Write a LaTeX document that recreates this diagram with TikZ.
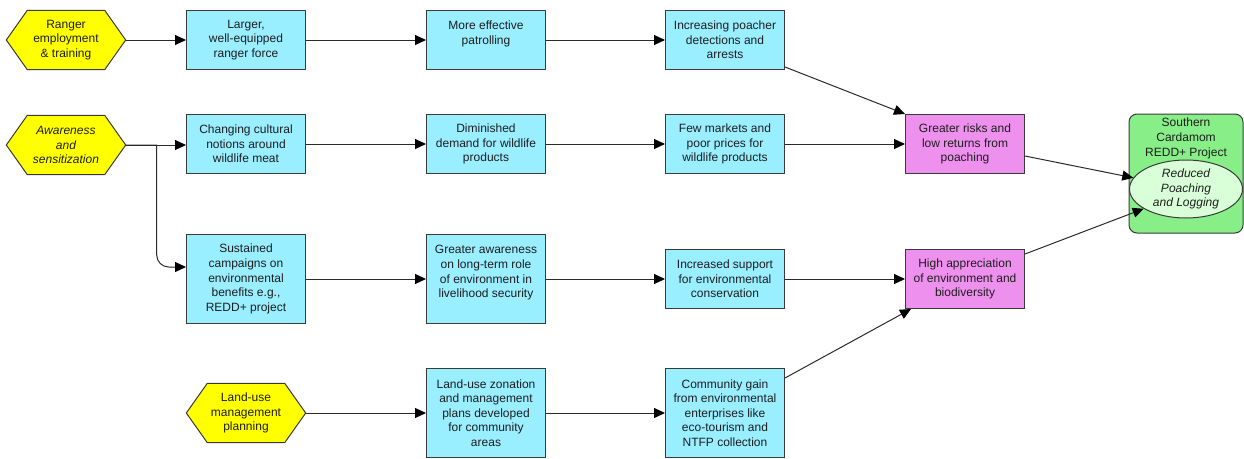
\documentclass[tikz,border=0pt]{standalone}
\usepackage{fontspec}
\setmainfont{Liberation Sans}
\usetikzlibrary{arrows.meta,backgrounds,shapes.geometric}
\definecolor{boxcyan}{HTML}{99EEFF}
\definecolor{boxpink}{HTML}{EE90EE}
\definecolor{hexyellow}{HTML}{FFFF00}
\definecolor{projgreen}{HTML}{88EE88}
\definecolor{ellgreen}{HTML}{D8FFD8}
\definecolor{edgegray}{HTML}{3A3A3A}
\definecolor{linegray}{HTML}{2A2A2A}
\definecolor{txt}{HTML}{1E1E1E}
\begin{document}
\begin{tikzpicture}[x=1pt,y=-1pt,
  every node/.style={font=\fontsize{12}{14.6}\selectfont,text=txt,align=center,inner sep=0pt},
  stepbox/.style={draw=edgegray,line width=1pt,fill=boxcyan,minimum width=119pt,minimum height=59pt},
  tallbox/.style={stepbox,minimum height=89pt},
  outcome/.style={draw=edgegray,line width=1pt,fill=boxpink,minimum width=119pt,minimum height=59pt},
  hexnode/.style={minimum width=119pt,minimum height=59pt},
  hexframe/.style={draw=edgegray,line width=1pt,fill=hexyellow},
  arr/.style={draw=linegray,line width=1pt,-{Triangle[length=11pt,width=10pt,color=black]}}]
\useasboundingbox (0,0) rectangle (1244,458);

% inputs (hexagons)
\node[hexnode] (ranger) at (66,40) {Ranger\\employment\\\& training};
\node[hexnode] (aware) at (66,145) {\itshape Awareness\\\itshape and\\\itshape sensitization};
\node[hexnode] (land) at (246,413) {Land-use\\management\\planning};

% row 1
\node[stepbox] (larger) at (246,40) {Larger,\\well-equipped\\ranger force};
\node[stepbox] (patrol) at (486,40) {More effective\\patrolling\\\mbox{}};
\node[stepbox] (detect) at (725,40) {Increasing poacher\\detections and\\arrests};

% row 2
\node[stepbox] (cultural) at (246,144) {Changing cultural\\notions around\\wildlife meat};
\node[stepbox] (demand) at (486,144) {Diminished\\demand for wildlife\\products};
\node[stepbox] (markets) at (725,144) {Few markets and\\poor prices for\\wildlife products};
\node[outcome] (risks) at (965,144) {Greater risks and\\low returns from\\poaching};

% row 3
\node[tallbox] (campaign) at (246,279) {Sustained\\campaigns on\\environmental\\benefits e.g.,\\REDD+ project};
\node[tallbox] (role) at (486,279) {Greater awareness\\on long-term role\\of environment in\\livelihood security\\\mbox{}};
\node[stepbox] (support) at (725,279) {Increased support\\for environmental\\conservation};
\node[outcome] (apprec) at (965,279) {High appreciation\\of environment and\\biodiversity};

% row 4
\node[tallbox] (zoning) at (486,413) {Land-use zonation\\and management\\plans developed\\for community\\areas};
\node[tallbox] (gain) at (725,413) {Community gain\\from environmental\\enterprises like\\eco-tourism and\\NTFP collection};

% project goal
\node[draw=edgegray,line width=1pt,fill=projgreen,rounded corners=8pt,minimum width=114pt,minimum height=119pt] (project) at (1186,173.5) {};
\node[anchor=north] (ptitle) at (1186,118) {Southern\\Cardamom\\REDD+ Project};
\node[ellipse,draw=edgegray,line width=1pt,fill=ellgreen,minimum width=113pt,minimum height=58pt] (goal) at (1186,189) {\itshape Reduced\\\itshape Poaching\\\itshape and Logging};

% hexagon outlines behind their labels
\begin{scope}[on background layer]
\foreach \n in {ranger,aware,land}
  \draw[hexframe] (\n.west) -- ([xshift=21pt]\n.north west) -- ([xshift=-21pt]\n.north east)
    -- (\n.east) -- ([xshift=-21pt]\n.south east) -- ([xshift=21pt]\n.south west) -- cycle;
\end{scope}

% connectors
\draw[arr] (ranger) -- (larger);
\draw[arr] (larger) -- (patrol);
\draw[arr] (patrol) -- (detect);
\draw[arr] ([yshift=3pt]detect.south east) -- (risks.north west);

\draw[arr] (aware.east) -- ([yshift=-1pt]cultural.west);
\draw[arr] (cultural) -- (demand);
\draw[arr] (demand) -- (markets);
\draw[arr] (markets) -- (risks);
\draw[arr] (aware.east) -- ++(31,0) [rounded corners=12pt] |- ([yshift=12pt]campaign.west);

\draw[arr] (campaign) -- (role);
\draw[arr] (role) -- (support);
\draw[arr] (support) -- (apprec);

\draw[arr] (land) -- (zoning);
\draw[arr] (zoning) -- (gain);
\draw[arr] ([yshift=-10pt]gain.north east) -- ([xshift=6pt]apprec.south west);

\draw[arr] ([yshift=-12pt]risks.east) -- (goal.168);
\draw[arr] ([yshift=-5pt]apprec.north east) -- (goal.205);
\end{tikzpicture}
\end{document}
